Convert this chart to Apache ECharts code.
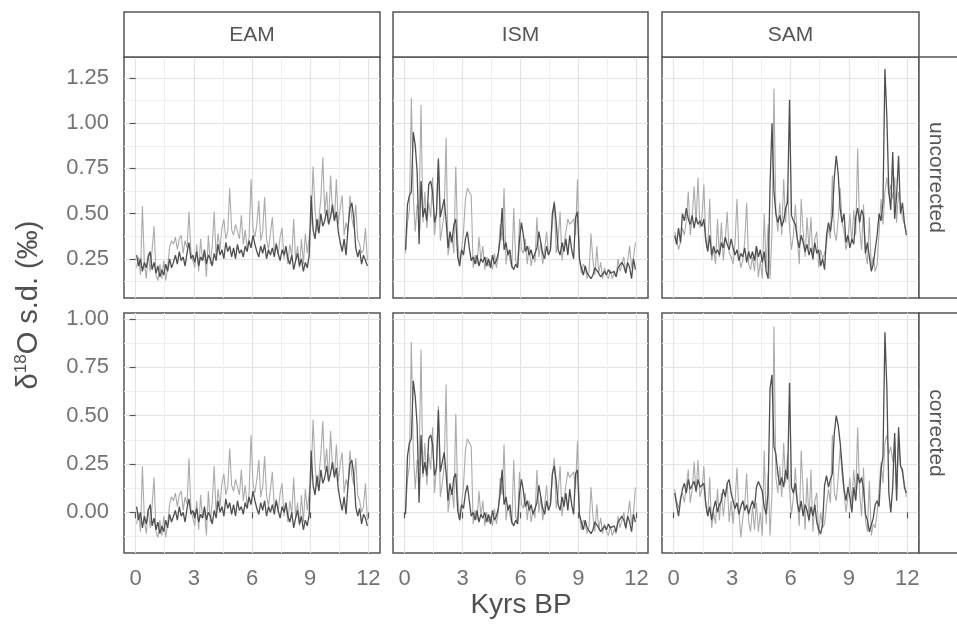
<!DOCTYPE html>
<html><head><meta charset="utf-8">
<script src="https://cdn.jsdelivr.net/npm/echarts@6.0.0/dist/echarts.min.js"></script>
<style>html,body{margin:0;padding:0;background:#fff}#c{width:957px;height:631px}</style>
</head><body><div id="c"></div><script>
// ---------- data ----------
const colNames = ['EAM', 'ISM', 'SAM'];
const rowNames = ['uncorrected', 'corrected'];
const xTicks = [0, 3, 6, 9, 12];
const yTicksTop = [0.25, 0.5, 0.75, 1.0, 1.25];
const yTicksBottom = [0.0, 0.25, 0.5, 0.75, 1.0];
const years = [
0.05,0.15,0.25,0.35,0.45,0.55,0.65,0.75,0.85,0.95,
1.05,1.15,1.25,1.35,1.45,1.55,1.65,1.75,1.85,1.95,
2.05,2.15,2.25,2.35,2.45,2.55,2.65,2.75,2.85,2.95,
3.05,3.15,3.25,3.35,3.45,3.55,3.65,3.75,3.85,3.95,
4.05,4.15,4.25,4.35,4.45,4.55,4.65,4.75,4.85,4.95,
5.05,5.15,5.25,5.35,5.45,5.55,5.65,5.75,5.85,5.95,
6.05,6.15,6.25,6.35,6.45,6.55,6.65,6.75,6.85,6.95,
7.05,7.15,7.25,7.35,7.45,7.55,7.65,7.75,7.85,7.95,
8.05,8.15,8.25,8.35,8.45,8.55,8.65,8.75,8.85,8.95,
9.05,9.15,9.25,9.35,9.45,9.55,9.65,9.75,9.85,9.95,
10.05,10.15,10.25,10.35,10.45,10.55,10.65,10.75,10.85,10.95,
11.05,11.15,11.25,11.35,11.45,11.55,11.65,11.75,11.85,11.95];

const eamUncDark = [
0.27,0.21,0.25,0.18,0.23,0.20,0.26,0.29,0.19,0.23,
0.17,0.21,0.15,0.19,0.16,0.22,0.18,0.25,0.20,0.23,
0.27,0.22,0.29,0.24,0.26,0.21,0.28,0.34,0.25,0.27,
0.23,0.29,0.21,0.26,0.24,0.30,0.22,0.27,0.25,0.21,
0.28,0.24,0.33,0.27,0.30,0.25,0.34,0.29,0.32,0.26,
0.31,0.25,0.33,0.28,0.30,0.26,0.32,0.29,0.35,0.31,
0.38,0.33,0.29,0.26,0.32,0.28,0.33,0.25,0.30,0.27,
0.31,0.26,0.33,0.28,0.24,0.30,0.27,0.32,0.25,0.22,
0.27,0.19,0.24,0.28,0.21,0.25,0.18,0.23,0.20,0.27,
0.60,0.41,0.36,0.47,0.39,0.50,0.43,0.46,0.52,0.44,
0.48,0.55,0.46,0.51,0.40,0.34,0.29,0.36,0.27,0.42,
0.53,0.56,0.47,0.31,0.26,0.30,0.22,0.27,0.24,0.21];
const eamUncLight = [
0.20,0.26,0.16,0.54,0.22,0.14,0.28,0.18,0.30,0.43,
0.16,0.13,0.22,0.14,0.24,0.13,0.20,0.31,0.35,0.33,
0.37,0.30,0.36,0.38,0.28,0.35,0.31,0.51,0.29,0.24,
0.20,0.33,0.18,0.36,0.24,0.28,0.15,0.38,0.22,0.32,
0.51,0.26,0.39,0.30,0.42,0.47,0.36,0.40,0.64,0.41,
0.38,0.44,0.40,0.36,0.49,0.33,0.41,0.30,0.37,0.69,
0.42,0.37,0.44,0.57,0.35,0.40,0.59,0.36,0.30,0.39,
0.48,0.29,0.34,0.27,0.37,0.42,0.25,0.31,0.22,0.33,
0.26,0.47,0.24,0.32,0.20,0.36,0.22,0.39,0.28,0.37,
0.45,0.76,0.52,0.40,0.47,0.58,0.81,0.50,0.62,0.44,
0.71,0.52,0.46,0.69,0.44,0.53,0.60,0.38,0.45,0.40,
0.60,0.47,0.42,0.55,0.36,0.33,0.28,0.30,0.42,0.24];
const eamCorDark = [
0.03,-0.04,0.00,-0.08,-0.02,-0.06,0.01,0.04,-0.07,-0.03,
-0.09,-0.05,-0.11,-0.07,-0.10,-0.04,-0.08,-0.01,-0.05,-0.02,
0.01,-0.04,0.03,-0.02,0.00,-0.05,0.02,0.07,-0.01,0.01,
-0.03,0.02,-0.05,-0.01,-0.03,0.03,-0.04,0.00,-0.02,-0.06,
0.01,-0.03,0.06,0.00,0.03,-0.02,0.07,0.02,0.05,-0.01,
0.04,-0.02,0.06,0.01,0.03,-0.01,0.05,0.02,0.08,0.04,
0.11,0.06,0.02,-0.01,0.05,0.01,0.06,-0.02,0.03,0.00,
0.04,-0.01,0.06,0.01,-0.03,0.03,0.00,0.05,-0.02,-0.05,
0.00,-0.08,-0.03,0.01,-0.06,-0.02,-0.09,-0.04,-0.07,-0.01,
0.32,0.14,0.09,0.19,0.11,0.22,0.15,0.18,0.24,0.16,
0.20,0.26,0.18,0.23,0.12,0.06,0.01,0.08,-0.01,0.14,
0.25,0.27,0.19,0.03,-0.02,0.02,-0.06,-0.01,-0.03,-0.07];
const eamCorLight = [
-0.06,0.00,-0.10,0.24,-0.04,-0.11,0.02,-0.08,0.04,0.18,
-0.10,-0.13,-0.04,-0.12,-0.02,-0.13,-0.06,0.04,0.08,0.06,
0.10,0.03,0.09,0.11,0.01,0.08,0.04,0.28,0.02,-0.03,
-0.07,0.06,-0.09,0.09,-0.03,0.01,-0.12,0.11,-0.05,0.05,
0.24,-0.01,0.12,0.03,0.15,0.20,0.09,0.13,0.33,0.14,
0.11,0.17,0.13,0.09,0.22,0.06,0.14,0.03,0.10,0.40,
0.15,0.10,0.17,0.27,0.08,0.13,0.29,0.09,0.03,0.12,
0.21,0.02,0.07,0.00,0.10,0.15,-0.02,0.04,-0.05,0.06,
-0.01,0.18,-0.03,0.05,-0.07,0.09,-0.05,0.12,0.01,0.10,
0.18,0.48,0.24,0.13,0.19,0.30,0.47,0.22,0.33,0.16,
0.42,0.24,0.19,0.35,0.16,0.25,0.31,0.10,0.17,0.13,
0.32,0.19,0.14,0.28,0.09,0.06,0.00,0.03,0.15,-0.04];

const ismUncDark = [
0.30,0.55,0.60,0.62,0.95,0.88,0.73,0.33,0.68,0.48,
0.53,0.46,0.66,0.68,0.62,0.45,0.50,0.80,0.48,0.53,
0.58,0.46,0.31,0.40,0.34,0.44,0.47,0.26,0.21,0.30,
0.27,0.36,0.40,0.31,0.24,0.26,0.22,0.27,0.21,0.25,
0.23,0.26,0.21,0.25,0.20,0.27,0.22,0.24,0.28,0.36,
0.53,0.30,0.34,0.27,0.30,0.21,0.19,0.22,0.20,0.36,
0.45,0.38,0.29,0.32,0.27,0.30,0.25,0.28,0.31,0.40,
0.34,0.28,0.25,0.32,0.27,0.30,0.50,0.56,0.45,0.30,
0.27,0.34,0.29,0.36,0.27,0.38,0.30,0.25,0.48,0.51,
0.25,0.20,0.16,0.21,0.17,0.18,0.14,0.16,0.20,0.21,
0.17,0.15,0.14,0.18,0.16,0.19,0.17,0.16,0.18,0.15,
0.20,0.19,0.23,0.21,0.17,0.23,0.20,0.14,0.25,0.19];
const ismUncLight = [
0.28,0.45,0.52,1.14,0.60,0.40,0.55,0.52,1.10,0.45,
0.62,0.42,0.56,0.48,0.70,0.38,0.50,0.81,0.35,0.42,
0.50,0.92,0.27,0.34,0.38,0.28,0.76,0.35,0.22,0.30,
0.40,0.58,0.64,0.62,0.60,0.20,0.27,0.22,0.37,0.24,
0.32,0.19,0.26,0.21,0.24,0.19,0.28,0.20,0.26,0.44,
0.35,0.64,0.22,0.30,0.25,0.20,0.53,0.24,0.20,0.47,
0.30,0.28,0.36,0.22,0.32,0.21,0.27,0.23,0.48,0.26,
0.34,0.22,0.30,0.40,0.27,0.30,0.45,0.57,0.28,0.36,
0.51,0.24,0.33,0.40,0.47,0.44,0.45,0.47,0.38,0.69,
0.25,0.17,0.22,0.20,0.14,0.18,0.39,0.24,0.16,0.32,
0.17,0.23,0.14,0.20,0.16,0.14,0.19,0.14,0.17,0.15,
0.25,0.18,0.22,0.26,0.17,0.24,0.32,0.20,0.26,0.34];
const ismCorDark = [
-0.01,0.29,0.36,0.38,0.68,0.60,0.45,0.05,0.40,0.20,
0.26,0.19,0.38,0.40,0.35,0.19,0.23,0.53,0.21,0.26,
0.31,0.20,0.06,0.15,0.09,0.18,0.20,0.01,-0.04,0.04,
0.02,0.10,0.14,0.06,-0.02,0.00,-0.04,0.01,-0.05,-0.01,
-0.03,0.00,-0.05,-0.01,-0.06,0.01,-0.04,-0.02,0.02,0.10,
0.22,0.04,0.08,0.01,0.04,-0.05,-0.07,-0.04,-0.06,0.10,
0.17,0.11,0.03,0.06,0.01,0.04,-0.01,0.02,0.05,0.14,
0.08,0.02,-0.01,0.06,0.01,0.04,0.20,0.24,0.16,0.04,
0.01,0.08,0.03,0.10,0.01,0.12,0.04,-0.01,0.20,0.22,
-0.01,-0.05,-0.09,-0.04,-0.08,-0.07,-0.11,-0.09,-0.05,-0.04,
-0.08,-0.10,-0.11,-0.07,-0.09,-0.06,-0.08,-0.09,-0.07,-0.10,
-0.05,-0.06,-0.02,-0.04,-0.08,-0.02,-0.05,-0.10,-0.01,-0.05];
const ismCorLight = [
0.01,0.17,0.24,0.88,0.32,0.12,0.27,0.24,0.84,0.18,
0.36,0.14,0.30,0.22,0.44,0.10,0.24,0.55,0.08,0.15,
0.24,0.66,0.00,0.08,0.12,0.02,0.51,0.09,-0.04,0.04,
0.14,0.32,0.38,0.36,0.34,-0.06,0.01,-0.04,0.11,-0.02,
0.06,-0.07,0.00,-0.05,-0.02,-0.07,0.02,-0.06,0.00,0.18,
0.09,0.35,-0.04,0.04,-0.01,-0.06,0.27,-0.02,-0.06,0.21,
0.04,0.02,0.10,-0.04,0.06,-0.05,0.01,-0.03,0.22,0.00,
0.08,-0.04,0.04,0.14,0.01,0.04,0.19,0.28,0.02,0.10,
0.24,-0.02,0.07,0.14,0.21,0.18,0.19,0.21,0.12,0.37,
-0.01,-0.09,-0.04,-0.06,-0.11,-0.07,0.13,-0.02,-0.10,0.04,
-0.09,-0.03,-0.11,-0.06,-0.10,-0.12,-0.07,-0.12,-0.09,-0.11,
-0.02,-0.08,-0.04,0.00,-0.09,-0.02,0.06,-0.06,0.00,0.13];

const samUncDark = [
0.38,0.33,0.42,0.34,0.50,0.46,0.53,0.47,0.44,0.49,
0.42,0.48,0.44,0.46,0.43,0.47,0.35,0.29,0.38,0.27,
0.32,0.28,0.30,0.27,0.34,0.31,0.37,0.33,0.30,0.36,
0.31,0.27,0.30,0.24,0.28,0.26,0.31,0.23,0.29,0.25,
0.29,0.24,0.32,0.26,0.30,0.23,0.29,0.18,0.14,0.66,
1.00,0.62,0.50,0.45,0.49,0.43,0.46,0.53,0.56,1.13,
0.49,0.46,0.44,0.36,0.31,0.38,0.34,0.29,0.33,0.27,
0.31,0.25,0.34,0.28,0.30,0.21,0.25,0.19,0.38,0.45,
0.40,0.49,0.70,0.82,0.72,0.53,0.45,0.50,0.34,0.38,
0.31,0.36,0.33,0.48,0.53,0.45,0.52,0.49,0.28,0.34,
0.26,0.18,0.22,0.30,0.38,0.50,0.46,0.56,1.30,1.03,
0.62,0.52,0.84,0.47,0.60,0.82,0.50,0.56,0.45,0.38];
const samUncLight = [
0.40,0.36,0.30,0.34,0.42,0.38,0.46,0.62,0.38,0.48,
0.65,0.45,0.70,0.42,0.48,0.66,0.36,0.30,0.58,0.24,
0.30,0.22,0.47,0.26,0.45,0.24,0.36,0.51,0.28,0.26,
0.22,0.34,0.58,0.28,0.20,0.24,0.35,0.56,0.22,0.19,
0.26,0.18,0.32,0.15,0.24,0.14,0.50,0.20,0.44,0.14,
0.40,1.19,0.50,0.40,0.56,0.38,0.69,0.45,0.64,0.42,
0.30,0.38,0.55,0.36,0.22,0.58,0.40,0.26,0.48,0.30,
0.48,0.24,0.36,0.40,0.20,0.30,0.25,0.28,0.33,0.42,
0.36,0.71,0.40,0.35,0.47,0.64,0.45,0.40,0.30,0.36,
0.50,0.34,0.52,0.38,0.86,0.42,0.30,0.55,0.28,0.22,
0.48,0.20,0.26,0.18,0.22,0.40,0.58,0.44,0.62,0.70,
0.60,0.66,0.58,0.70,0.45,0.62,0.55,0.48,0.44,0.40];
const samCorDark = [
0.10,0.04,-0.02,0.06,0.12,0.15,0.10,0.17,0.12,0.14,
0.16,0.11,0.17,0.13,0.12,0.15,0.04,-0.02,0.03,-0.04,
0.02,0.06,0.00,0.04,0.06,0.12,0.08,0.15,0.17,0.10,
0.06,0.02,0.05,-0.01,0.03,0.06,0.01,0.04,-0.01,0.03,
0.06,0.02,0.13,0.16,0.17,0.11,0.03,-0.01,0.10,0.64,
0.71,0.34,0.30,0.20,0.14,0.18,0.13,0.22,0.17,0.67,
0.13,0.10,0.15,0.05,0.00,0.06,-0.02,0.04,0.01,-0.04,
0.03,-0.02,0.04,-0.05,-0.09,-0.11,-0.06,0.14,0.19,0.13,
0.17,0.20,0.41,0.50,0.45,0.36,0.24,0.12,0.06,0.13,
0.08,0.00,0.13,0.06,0.20,0.15,0.18,0.12,-0.01,-0.04,
-0.10,-0.11,-0.03,0.04,0.06,0.03,0.22,0.29,0.93,0.64,
0.10,0.00,0.13,0.41,0.06,0.44,0.24,0.22,0.13,0.10];
const samCorLight = [
0.12,0.06,0.02,0.08,0.10,0.05,0.14,0.22,0.05,0.12,
0.26,0.10,0.27,0.08,0.12,0.24,0.04,-0.02,0.18,-0.08,
0.00,-0.06,0.12,-0.04,0.10,-0.02,0.08,0.15,-0.05,0.06,
-0.06,0.05,0.23,0.00,-0.13,-0.03,0.04,0.20,-0.05,-0.10,
0.03,-0.09,0.05,-0.10,0.00,-0.12,0.32,-0.06,0.20,-0.12,
0.10,0.96,0.18,0.10,0.24,0.08,0.36,0.15,0.30,0.12,
-0.01,0.08,0.23,0.05,-0.07,0.32,0.10,-0.09,0.18,-0.05,
0.22,-0.10,0.06,0.10,-0.12,0.00,-0.08,-0.06,0.04,0.12,
0.05,0.40,0.10,0.06,0.18,0.33,0.20,0.10,0.00,0.08,
0.18,0.05,0.22,0.08,0.44,0.10,-0.02,0.23,-0.04,-0.10,
0.16,-0.12,-0.06,-0.08,0.00,0.12,0.26,0.15,0.36,0.40,
0.30,0.34,0.26,0.38,0.10,0.36,0.24,0.20,0.15,0.08];

// ---------- layout / style ----------
const FONT = "'Liberation Sans', Arial, sans-serif";
const LIGHT = '#ababab', DARK = '#4f4f4f', BORDER = '#555555';
const cols = [{left:124,width:256},{left:393,width:255},{left:662,width:257}];
const rows = [{top:57,height:241},{top:313,height:240}];
const yRange = [{min:0.033,max:1.366,ticks:yTicksTop},{min:-0.21,max:1.03,ticks:yTicksBottom}];
const panelData = [
  [[eamUncLight,eamUncDark],[ismUncLight,ismUncDark],[samUncLight,samUncDark]],
  [[eamCorLight,eamCorDark],[ismCorLight,ismCorDark],[samCorLight,samCorDark]]
];
const near = (v, arr) => arr.some(t => Math.abs(t - v) < 1e-6);

const grid = [], xAxis = [], yAxis = [], series = [];
for (let r = 0; r < 2; r++) {
  for (let c = 0; c < 3; c++) {
    const idx = r * 3 + c;
    grid.push({left:cols[c].left, top:rows[r].top, width:cols[c].width, height:rows[r].height,
      show:true, borderColor:BORDER, borderWidth:1.5, backgroundColor:'#fff', containLabel:false, outerBoundsMode:'none'});
    xAxis.push({gridIndex:idx, type:'value', min:-0.6, max:12.6, minInterval:3, maxInterval:3,
      axisLine:{show:false},
      axisTick:{show:r===1, length:6, customValues:xTicks, lineStyle:{color:BORDER, width:1.2}},
      axisLabel:{show:r===1, customValues:xTicks, margin:15, fontSize:22, color:'#737373', fontFamily:FONT,
        formatter:v => near(v, xTicks) ? String(Math.round(v)) : ''},
      splitLine:{show:true, lineStyle:{color:'#e3e3e3', width:1.2}},
      minorTick:{show:false, splitNumber:2},
      minorSplitLine:{show:true, lineStyle:{color:'#efefef', width:1}}
    });
    const yr = yRange[r];
    yAxis.push({gridIndex:idx, type:'value', min:yr.min, max:yr.max, minInterval:0.25, maxInterval:0.25,
      axisLine:{show:false},
      axisTick:{show:c===0, length:6, customValues:yr.ticks, lineStyle:{color:BORDER, width:1.2}},
      axisLabel:{show:c===0, customValues:yr.ticks, margin:15, fontSize:22, color:'#737373', fontFamily:FONT,
        formatter:v => near(v, yr.ticks) ? v.toFixed(2) : ''},
      splitLine:{show:true, lineStyle:{color:'#e3e3e3', width:1.2}},
      minorTick:{show:false, splitNumber:2},
      minorSplitLine:{show:true, lineStyle:{color:'#efefef', width:1}}
    });
    const [lt, dk] = panelData[r][c];
    series.push({type:'line', xAxisIndex:idx, yAxisIndex:idx, data:years.map((x,i)=>[x, lt[i]]),
      showSymbol:false, symbol:'none', silent:true, z:2, lineStyle:{color:LIGHT, width:1.1}});
    series.push({type:'line', xAxisIndex:idx, yAxisIndex:idx, data:years.map((x,i)=>[x, dk[i]]),
      showSymbol:false, symbol:'none', silent:true, z:3, lineStyle:{color:DARK, width:1.3}});
  }
}

const graphic = [];
cols.forEach((cl, i) => {
  graphic.push({type:'rect', shape:{x:cl.left, y:12, width:cl.width, height:45},
    style:{fill:'#fff', stroke:BORDER, lineWidth:1.5}, z:10});
  graphic.push({type:'text', x:cl.left + cl.width/2, y:35, z:11,
    style:{text:colNames[i], align:'center', verticalAlign:'middle', fontSize:21, fontFamily:FONT, fill:'#555'}});
});
rows.forEach((rw, i) => {
  graphic.push({type:'rect', shape:{x:919, y:rw.top, width:60, height:rw.height},
    style:{fill:'#fff', stroke:BORDER, lineWidth:1.5}, z:10});
  graphic.push({type:'text', x:936, y:rw.top + rw.height/2, rotation:-Math.PI/2, z:11,
    style:{text:rowNames[i], align:'center', verticalAlign:'middle', fontSize:21, fontFamily:FONT, fill:'#555'}});
});
graphic.push({type:'text', x:521, y:605, z:11,
  style:{text:'Kyrs BP', align:'center', verticalAlign:'middle', fontSize:28, fontFamily:FONT, fill:'#505050'}});
graphic.push({type:'text', x:29, y:305, rotation:Math.PI/2, z:11,
  style:{text:'{a|δ}{s|18}{a|O s.d. (‰)}', align:'center', verticalAlign:'middle',
    rich:{a:{fontSize:29, lineHeight:32, fontFamily:FONT, fill:'#505050'},
          s:{fontSize:17, lineHeight:17, verticalAlign:'top', fontFamily:FONT, fill:'#505050'}}}});

const chart = echarts.init(document.getElementById('c'), null, {renderer:'canvas'});
chart.setOption({animation:false, backgroundColor:'#fff', grid, xAxis, yAxis, series, graphic});
</script></body></html>
